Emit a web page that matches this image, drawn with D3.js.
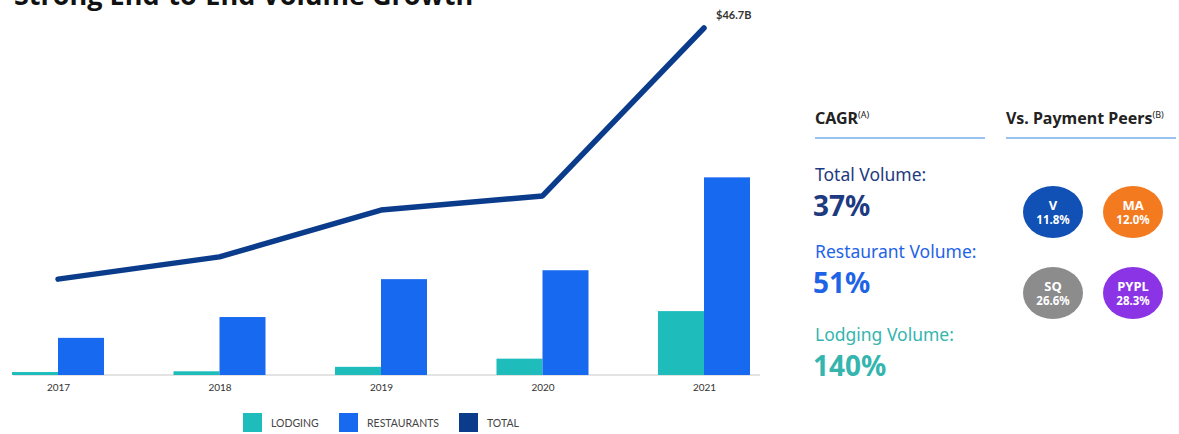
<!DOCTYPE html>
<html>
<head>
<meta charset="utf-8">
<script src="https://cdn.jsdelivr.net/npm/d3@7"></script>
<style>
  body { margin: 0; background: #fff; }
  svg { display: block; font-family: Lato, "Noto Sans", sans-serif; }
</style>
</head>
<body>
<div id="plot"></div>
<script>
// values in $B
var years = ["2017", "2018", "2019", "2020", "2021"];
var lodging = [0.4, 0.5, 1.1, 2.2, 8.6];
var restaurants = [5.0, 7.8, 12.9, 14.1, 26.6];
var total = [12.9, 15.9, 22.2, 24.1, 46.7];
var totalLabel = "$46.7B";

var cagrLabels = ["Total Volume:", "Restaurant Volume:", "Lodging Volume:"];
var cagrValues = ["37%", "51%", "140%"];
var peers = ["V", "MA", "SQ", "PYPL"];
var peerValues = ["11.8%", "12.0%", "26.6%", "28.3%"];
var legendNames = ["LODGING", "RESTAURANTS", "TOTAL"];

var colors = {lodging: "#1fbcbc", restaurants: "#1769f0", total: "#0b3c8c"};
var cagrColors = ["#1e3a80", "#1f63e6", "#35b5ae"];
var peerColors = ["#1150b4", "#f47a20", "#8c8c8c", "#8a34e6"];

var svg = d3.select("div#plot")
  .append("svg")
  .attr("width", 1179)
  .attr("height", 434);

// title (cut off at the top in the original)
svg.append("text")
  .attr("x", 14)
  .attr("y", 5)
  .style("font-family", "'Open Sans', sans-serif")
  .style("font-weight", "bold")
  .style("font-size", "27px")
  .attr("fill", "#111")
  .text("Strong End-to-End Volume Growth");

var xScale = d3.scalePoint().domain(years).range([58, 704]);
var yScale = d3.scaleLinear().domain([0, 46.7]).range([375, 28]);
var barW = 46;

// baseline
svg.append("line")
  .attr("x1", 13).attr("x2", 760)
  .attr("y1", yScale(0)).attr("y2", yScale(0))
  .attr("stroke", "#c8c8c8")
  .attr("stroke-width", 1);

var xAxis = svg.append("g")
  .attr("transform", `translate(0, ${yScale(0)})`)
  .call(d3.axisBottom(xScale).tickSize(0).tickPadding(9));
xAxis.select(".domain").remove();
xAxis.selectAll("text")
  .style("font-family", "Lato, sans-serif")
  .style("font-size", "10px")
  .attr("fill", "#333");

// bars
svg.append("g").selectAll("rect")
  .data(years)
  .join("rect")
  .attr("x", d => xScale(d) - barW)
  .attr("y", (d, i) => yScale(lodging[i]))
  .attr("width", barW)
  .attr("height", (d, i) => yScale(0) - yScale(lodging[i]))
  .attr("fill", colors.lodging);

svg.append("g").selectAll("rect")
  .data(years)
  .join("rect")
  .attr("x", d => xScale(d))
  .attr("y", (d, i) => yScale(restaurants[i]))
  .attr("width", barW)
  .attr("height", (d, i) => yScale(0) - yScale(restaurants[i]))
  .attr("fill", colors.restaurants);

// total line
var line = d3.line()
  .x((d, i) => xScale(years[i]))
  .y(d => yScale(d));

svg.append("path")
  .datum(total)
  .attr("fill", "none")
  .attr("stroke", colors.total)
  .attr("stroke-width", 5.5)
  .attr("stroke-linecap", "round")
  .attr("stroke-linejoin", "round")
  .attr("d", line);

svg.append("text")
  .attr("x", xScale(years[4]) + 12)
  .attr("y", yScale(total[4]) - 9)
  .style("font-weight", "bold")
  .style("font-size", "11px")
  .attr("fill", "#333")
  .text(totalLabel);

// legend
var legendX = [243, 339, 459];
var legendColors = [colors.lodging, colors.restaurants, colors.total];
var legend = svg.append("g").selectAll("g")
  .data(legendNames)
  .join("g")
  .attr("transform", (d, i) => `translate(${legendX[i]}, 413)`);
legend.append("rect")
  .attr("width", 19).attr("height", 19)
  .attr("fill", (d, i) => legendColors[i]);
legend.append("text")
  .attr("x", 28).attr("y", 14)
  .style("font-size", "10.5px")
  .attr("fill", "#444")
  .text(d => d);

// right panel: CAGR
function header(x, y, txt, sup, width) {
  var t = svg.append("text")
    .attr("x", x).attr("y", y)
    .style("font-family", "'Noto Sans', sans-serif")
    .style("font-weight", "bold")
    .style("font-size", "16px")
    .attr("fill", "#222")
    .text(txt);
  t.append("tspan")
    .attr("dy", -6)
    .style("font-size", "9px")
    .style("font-weight", "normal")
    .text(sup);
  svg.append("line")
    .attr("x1", x).attr("x2", x + width)
    .attr("y1", y + 14).attr("y2", y + 14)
    .attr("stroke", "#79aee8")
    .attr("stroke-width", 1.5);
}
header(815, 124, "CAGR", "(A)", 170);
header(1006, 124, "Vs. Payment Peers", "(B)", 170);

var cagrY = [181, 258, 341];
cagrLabels.forEach(function(lbl, i) {
  svg.append("text")
    .attr("x", 815).attr("y", cagrY[i])
    .style("font-family", "'Noto Sans', sans-serif")
    .style("font-size", "17.5px")
    .attr("fill", cagrColors[i])
    .text(lbl);
  svg.append("text")
    .attr("x", 813).attr("y", cagrY[i] + 35)
    .style("font-family", "'Noto Sans', sans-serif")
    .style("font-size", "28px")
    .style("font-weight", "bold")
    .attr("fill", cagrColors[i])
    .text(cagrValues[i]);
});

// peer circles
var peerX = d3.scalePoint().domain([0, 1]).range([1053, 1133]);
var peerY = d3.scalePoint().domain([0, 1]).range([212, 293]);
var peerG = svg.append("g").selectAll("g")
  .data(peers)
  .join("g")
  .attr("transform", (d, i) => `translate(${peerX(i % 2)}, ${peerY(Math.floor(i / 2))})`);
peerG.append("ellipse")
  .attr("rx", 30).attr("ry", 26)
  .attr("fill", (d, i) => peerColors[i]);
peerG.append("text")
  .attr("text-anchor", "middle")
  .attr("y", -2)
  .style("font-family", "'Noto Sans', sans-serif")
  .style("font-size", "13px")
  .style("font-weight", "bold")
  .attr("fill", "#fff")
  .text(d => d);
peerG.append("text")
  .attr("text-anchor", "middle")
  .attr("y", 12)
  .style("font-family", "'Noto Sans', sans-serif")
  .style("font-size", "11.5px")
  .style("font-weight", "bold")
  .attr("fill", "#fff")
  .text((d, i) => peerValues[i]);
</script>
</body>
</html>
